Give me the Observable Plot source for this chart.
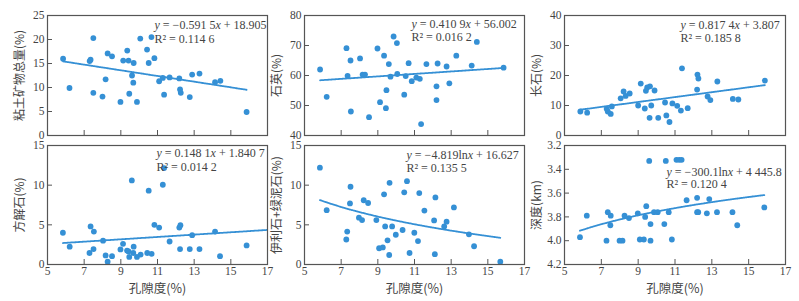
<!DOCTYPE html>
<html><head><meta charset="utf-8">
<script src="https://cdn.jsdelivr.net/npm/d3@7"></script>
<script src="https://cdn.jsdelivr.net/npm/@observablehq/plot@0.6"></script>
<style>
body{margin:0;background:#fff;}
#c{position:relative;width:799px;height:301px;overflow:hidden;background:#fff;}
#c svg{position:absolute;overflow:visible;font-family:"Liberation Serif",serif;}
</style></head><body><div id="c"></div>
<script>
// Porosity (%) vs. each property
const clayX = [5.85,6.2,7.5,7.3,7.35,7.5,8.0,8.17,8.28,8.52,8.98,9.13,9.35,9.42,9.46,9.61,9.68,9.7,9.88,10.06,10.43,10.52,10.67,10.83,11.09,11.29,11.36,11.66,12.19,12.23,12.27,12.76,12.89,13.29,14.14,14.43,15.86];
const clayY = [16.0,9.9,20.3,15.5,15.8,8.9,8.1,11.7,17.1,16.5,7.0,15.6,17.7,15.6,8.7,12.5,11.0,15.1,7.0,20.2,17.9,15.1,20.5,16.1,11.3,12.0,8.5,12.1,11.9,9.6,8.9,8.0,12.7,12.9,11.1,11.4,4.9];

const quartzX = [5.85,6.21,7.29,7.51,7.35,7.53,8.03,8.17,8.3,8.52,8.98,9.12,9.34,9.44,9.47,9.6,9.69,9.86,10.04,10.06,10.44,10.52,10.68,10.85,11.1,11.29,11.36,11.65,12.2,12.2,12.26,12.75,12.9,13.28,14.12,14.4,15.86];
const quartzY = [62.0,52.9,69.1,65.0,59.9,48.0,65.7,60.3,60.3,46.1,69.0,51.1,66.6,49.1,55.1,63.8,59.6,73.0,70.8,60.5,53.6,59.8,64.1,58.1,59.3,58.9,43.8,63.8,56.4,51.8,64.0,63.0,57.4,66.6,63.3,71.2,62.6];

const feldsparX = [5.86,6.23,7.29,7.35,7.51,7.57,8.05,8.21,8.32,8.54,9.0,9.14,9.36,9.42,9.49,9.64,9.62,9.71,9.89,10.09,10.46,10.53,10.7,10.86,11.12,11.32,11.38,11.69,12.2,12.22,12.27,12.77,12.92,13.3,14.14,14.44,15.88];
const feldsparY = [8.0,7.6,8.9,8.0,7.2,9.7,12.4,14.7,13.2,14.0,10.0,17.3,9.0,14.9,16.0,16.4,5.9,10.0,15.0,5.9,11.0,6.7,4.5,10.7,9.9,8.3,22.4,9.1,15.3,20.3,19.0,13.0,11.8,18.0,12.2,12.0,18.3];

const calciteX = [5.84,6.21,7.29,7.35,7.51,7.53,8.03,8.17,8.28,8.52,8.98,9.12,9.34,9.42,9.46,9.6,9.68,9.7,9.88,10.08,10.44,10.52,10.68,10.83,11.09,11.29,11.36,11.66,12.19,12.23,12.25,12.76,12.89,13.29,14.14,14.41,15.86];
const calciteY = [4.0,2.25,1.45,4.8,1.95,4.15,3.0,1.15,0.35,1.05,1.9,2.6,1.75,1.65,0.95,10.6,1.45,2.25,0.95,1.25,1.45,9.3,1.35,5.0,4.65,10.05,12.15,2.9,4.65,1.95,4.95,1.95,3.7,1.95,4.15,1.05,2.4];

const illiteX = [5.84,6.21,7.28,7.33,7.51,7.48,7.97,8.14,8.23,8.47,8.92,9.07,9.27,9.34,9.4,9.53,9.62,9.64,9.78,9.98,10.35,10.44,10.59,10.73,10.99,11.19,11.26,11.54,12.07,12.11,12.14,12.62,12.75,13.15,13.97,14.25,15.68];
const illiteY = [12.2,6.85,3.15,4.15,9.8,7.7,5.9,5.6,8.1,7.75,5.6,2.05,2.15,8.85,4.8,3.05,1.2,10.3,4.8,3.75,4.35,9.1,10.5,1.45,4.0,2.95,9.0,6.8,5.55,1.3,8.45,4.8,5.4,7.2,3.8,2.3,0.35];

const depthX = [5.84,6.21,7.28,7.35,7.51,7.49,7.99,8.15,8.26,8.5,8.98,9.09,9.31,9.38,9.44,9.6,9.67,9.67,9.86,10.06,10.42,10.5,10.66,10.83,11.08,11.23,11.36,11.63,12.2,12.2,12.26,12.73,12.86,13.28,14.12,14.38,15.85];
const depthY = [3.97,3.79,4.0,3.76,3.79,3.87,4.0,4.0,3.79,3.81,3.77,3.99,3.99,3.8,3.71,3.33,3.86,4.0,3.76,3.76,3.86,3.33,3.76,3.99,3.32,3.32,3.32,3.66,3.64,3.76,3.76,3.77,3.65,3.76,3.76,3.87,3.72];

// Labels & fitted equations
const yLabels = ["粘土矿物总量(%)","石英(%)","长石(%)","方解石(%)","伊利石+绿泥石(%)","深度(km)"];
const xLabel = "孔隙度(%)";
const eqTexts = ["y = −0.591 5x + 18.905","y = 0.410 9x + 56.002","y = 0.817 4x + 3.807","y = 0.148 1x + 1.840 7","y = −4.819lnx + 16.627","y = −300.1lnx + 4 445.8"];
const r2Texts = ["R² = 0.114 6","R² = 0.016 2","R² = 0.185 8","R² = 0.014 2","R² = 0.135 5","R² = 0.120 4"];
const fitType = ["linear","linear","linear","linear","log","log"];
const fitA = [-0.5915, 0.4109, 0.8174, 0.1481, -4.819, -300.1];
const fitB = [18.905, 56.002, 3.807, 1.8407, 16.627, 4445.8];
const fitScale = [1,1,1,1,1,0.001];
const fitXMax = [null,null,null,17,null,null];
const xTicks = [5,7,9,11,13,15,17];
const yTicksList = [[0,5,10,15,20,25],[40,50,60,70,80],[0,10,20,30,40],[0,5,10,15],[0,5,10,15],[3.2,3.4,3.6,3.8,4.0,4.2]];

const xsList = [clayX, quartzX, feldsparX, calciteX, illiteX, depthX];
const ysList = [clayY, quartzY, feldsparY, calciteY, illiteY, depthY];

// layout (style only)
const cols = [{left:0,width:275,ml:47,mr:8},{left:265,width:265,ml:39,mr:6},{left:530,width:269,ml:34,mr:14}];
const rows = [{top:0,height:140,mt:15,mb:5},{top:140,height:161,mt:5,mb:37}];
const eqPos = [[107,10,24],[107,9,22],[116,10,23],[109,8,22],[102,10,23],[102,27,39]];

const BLUE = "#3590d5", INK = "#555", TXT = "#444";
const serif = "Liberation Serif";
const cjk = "Noto Sans CJK SC";
const container = document.getElementById("c");

for (let i = 0; i < 6; i++) {
  const col = cols[i % 3], row = rows[Math.floor(i / 3)];
  const bottom = i >= 3;
  const data = xsList[i].map((x, j) => ({x, y: ysList[i][j]}));
  const yTicks = yTicksList[i];
  const fw = col.width - col.ml - col.mr, fh = row.height - row.mt - row.mb;
  const x0 = d3.min(xsList[i]), x1 = fitXMax[i] ?? d3.max(xsList[i]);
  const n = fitType[i] === "linear" ? 2 : 60;
  const trend = d3.range(n).map(k => {
    const x = x0 + (x1 - x0) * k / (n - 1);
    const v = fitType[i] === "linear" ? fitA[i] * x + fitB[i] : fitA[i] * Math.log(x) + fitB[i];
    return {x, y: v * fitScale[i]};
  });
  const depth = i === 5;
  const plot = Plot.plot({
    width: col.width, height: row.height,
    marginLeft: col.ml, marginRight: col.mr, marginTop: row.mt, marginBottom: row.mb,
    x: {domain: [5, 17], axis: null, label: null},
    y: {domain: [yTicks[0], yTicks[yTicks.length - 1]], reverse: depth, axis: null, label: null},
    style: {fontSize: "12px", color: TXT, background: "none", overflow: "visible"},
    marks: [
      Plot.dot(data, {x: "x", y: "y", r: 2.9, fill: BLUE, stroke: "none"}),
      Plot.line(trend, {x: "x", y: "y", stroke: BLUE, strokeWidth: 1.8, strokeDasharray: "1 0.8", curve: "linear"}),
      Plot.frame({stroke: INK, strokeWidth: 1.2}),
      Plot.tickX(xTicks.slice(1, -1), {x: d => d, stroke: INK, insetTop: fh - 5}),
      Plot.tickY(yTicks.slice(1, -1), {y: d => d, stroke: INK, insetRight: fw - 5}),
      Plot.axisY(yTicks, {label: null, tickSize: 0, tickPadding: 3, fontSize: 11.5, fontFamily: serif, fill: TXT, tickFormat: depth ? d3.format(".1f") : d3.format("d")}),
      bottom ? Plot.axisX(xTicks, {label: null, tickSize: 0, tickPadding: 2, fontSize: 11.5, fontFamily: serif, fill: TXT, tickFormat: d3.format("d")}) : null,
      Plot.text([eqTexts[i]], {text: d => d, frameAnchor: "top-left", textAnchor: "start", lineAnchor: "middle", dx: eqPos[i][0], dy: eqPos[i][1], fontSize: 12, fontFamily: serif, fill: TXT}),
      Plot.text([r2Texts[i]], {text: d => d, frameAnchor: "top-left", textAnchor: "start", lineAnchor: "middle", dx: eqPos[i][0], dy: eqPos[i][2], fontSize: 12, fontFamily: serif, fill: TXT}),
      Plot.text([yLabels[i]], {text: d => d, frameAnchor: "left", rotate: -90, dx: -27, textAnchor: "middle", lineAnchor: "middle", fontSize: 12, fontFamily: cjk, fill: TXT}),
      bottom ? Plot.text([xLabel], {text: d => d, frameAnchor: "bottom", dy: 24, textAnchor: "middle", lineAnchor: "middle", fontSize: 12.5, fontFamily: cjk, fill: TXT}) : null
    ]
  });
  plot.style.left = col.left + "px";
  plot.style.top = row.top + "px";
  // italicize the variables x and y in the equations
  d3.select(plot).selectAll("text").each(function () {
    const t = this.textContent;
    if (!t.startsWith("y =")) return;
    const sel = d3.select(this);
    sel.text(null);
    for (const ch of t) {
      const span = sel.append("tspan").text(ch);
      if (ch === "x" || ch === "y") span.attr("font-style", "italic");
    }
  });
  container.appendChild(plot);
}
</script>
</body></html>
